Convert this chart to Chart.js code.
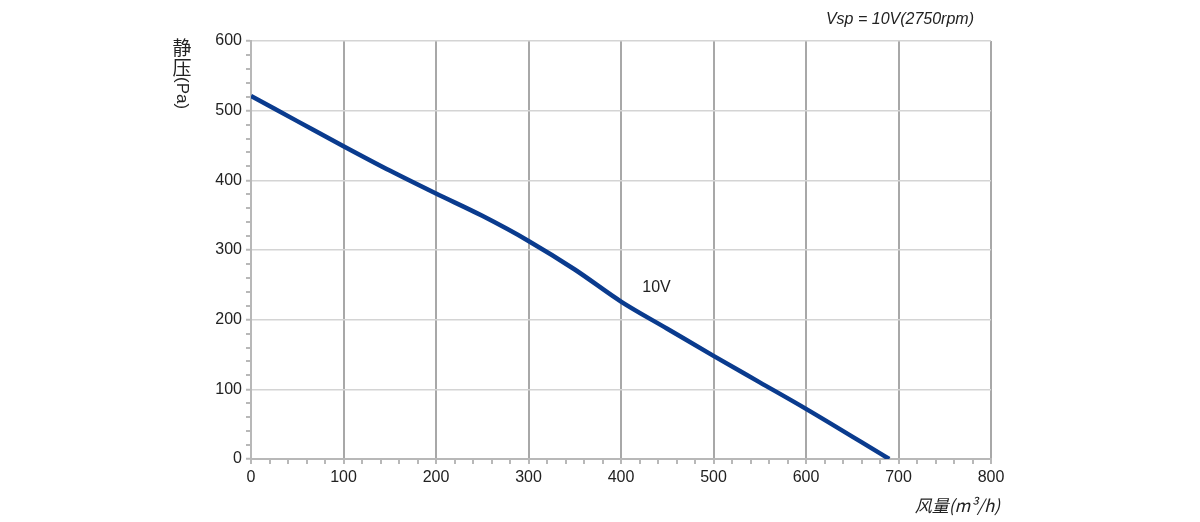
<!DOCTYPE html>
<html>
<head>
<meta charset="utf-8">
<script src="https://cdn.jsdelivr.net/npm/chart.js@4"></script>
<style>
  html, body { margin: 0; padding: 0; background: #fff; }
  #wrap { width: 1200px; height: 522px; }
</style>
</head>
<body>
<div id="wrap"><canvas id="chart"></canvas></div>
<script>
// airflow (m3/h) and static pressure (Pa)
const flow = [0, 50, 100, 150, 200, 250, 300, 350, 400, 450, 500, 550, 600, 690];
const pressure = [521, 485, 449, 414, 381, 349, 313, 272, 226, 187, 148, 110, 72, 0];

const seriesLabel = '10V';
const labelPos = { x: 423, y: 246 };
const chartTitle = 'Vsp = 10V(2750rpm)';
const xTitle = '风量(m³/h)';
const yTitleCjk = ['静', '压'];
const yTitleLatin = '(Pa)';

const FONT = '"Liberation Sans", Arial, sans-serif';
const CJK = '"Noto Sans CJK SC", "Liberation Sans", sans-serif';

// extra text: title, axis titles, series label
const textPlugin = {
    id: 'texts',
    afterDraw(chart) {
        const ctx = chart.ctx;
        const xs = chart.scales.x, ys = chart.scales.y;
        ctx.save();
        ctx.fillStyle = '#222';

        // series label next to the curve
        ctx.font = '16px ' + FONT;
        ctx.textAlign = 'left';
        ctx.textBaseline = 'middle';
        ctx.fillText(seriesLabel, xs.getPixelForValue(labelPos.x), ys.getPixelForValue(labelPos.y));

        // title top right
        ctx.font = 'italic 16px ' + FONT;
        ctx.textAlign = 'right';
        ctx.fillText(chartTitle, 974, 20);

        // x title
        ctx.font = 'italic 17px ' + CJK;
        ctx.textAlign = 'right';
        ctx.fillText(xTitle, 1000, 506);

        // y title, vertical writing
        ctx.font = '19px ' + CJK;
        ctx.textAlign = 'center';
        ctx.fillText(yTitleCjk[0], 182, 48);
        ctx.fillText(yTitleCjk[1], 182, 68);
        ctx.translate(182, 77);
        ctx.rotate(Math.PI / 2);
        ctx.font = '17px ' + FONT;
        ctx.textAlign = 'left';
        ctx.fillText(yTitleLatin, 0, 0);
        ctx.restore();
    }
};

const isMajor = v => Math.round(v) % 100 === 0;

new Chart(document.getElementById('chart'), {
    type: 'line',
    data: {
        datasets: [{
            label: seriesLabel,
            data: flow.map((f, i) => ({ x: f, y: pressure[i] })),
            borderColor: '#0a3b8e',
            borderWidth: 4.5,
            pointRadius: 0,
            fill: false,
            cubicInterpolationMode: 'monotone'
        }]
    },
    options: {
        responsive: true,
        maintainAspectRatio: false,
        animation: false,
        layout: { padding: { left: 198, right: 209, top: 41, bottom: 25 } },
        plugins: { legend: { display: false }, tooltip: { enabled: false } },
        scales: {
            x: {
                type: 'linear',
                min: 0,
                max: 800,
                afterFit(scale) { scale.height = 38; },
                ticks: {
                    stepSize: 20,
                    autoSkip: false,
                    maxRotation: 0,
                    padding: 4,
                    color: '#222',
                    font: { size: 16, family: FONT },
                    callback: v => isMajor(v) ? v : ''
                },
                grid: {
                    color: c => isMajor(c.tick.value) ? '#a8a8a8' : 'rgba(0,0,0,0)',
                    lineWidth: c => isMajor(c.tick.value) ? 2 : 0,
                    tickColor: '#b8b8b8',
                    tickLength: 5,
                    tickWidth: 2
                },
                border: { color: '#b8b8b8', width: 2 }
            },
            y: {
                min: 0,
                max: 600,
                afterFit(scale) { scale.width = 53; },
                ticks: {
                    stepSize: 20,
                    autoSkip: false,
                    padding: 4,
                    color: '#222',
                    font: { size: 16, family: FONT },
                    callback: v => isMajor(v) ? v : ''
                },
                grid: {
                    color: c => isMajor(c.tick.value) ? '#d4d4d4' : 'rgba(0,0,0,0)',
                    lineWidth: c => isMajor(c.tick.value) ? 1.5 : 0,
                    tickColor: '#b8b8b8',
                    tickLength: 5,
                    tickWidth: 2
                },
                border: { color: '#b8b8b8', width: 2 }
            }
        }
    },
    plugins: [textPlugin]
});
</script>
</body>
</html>
